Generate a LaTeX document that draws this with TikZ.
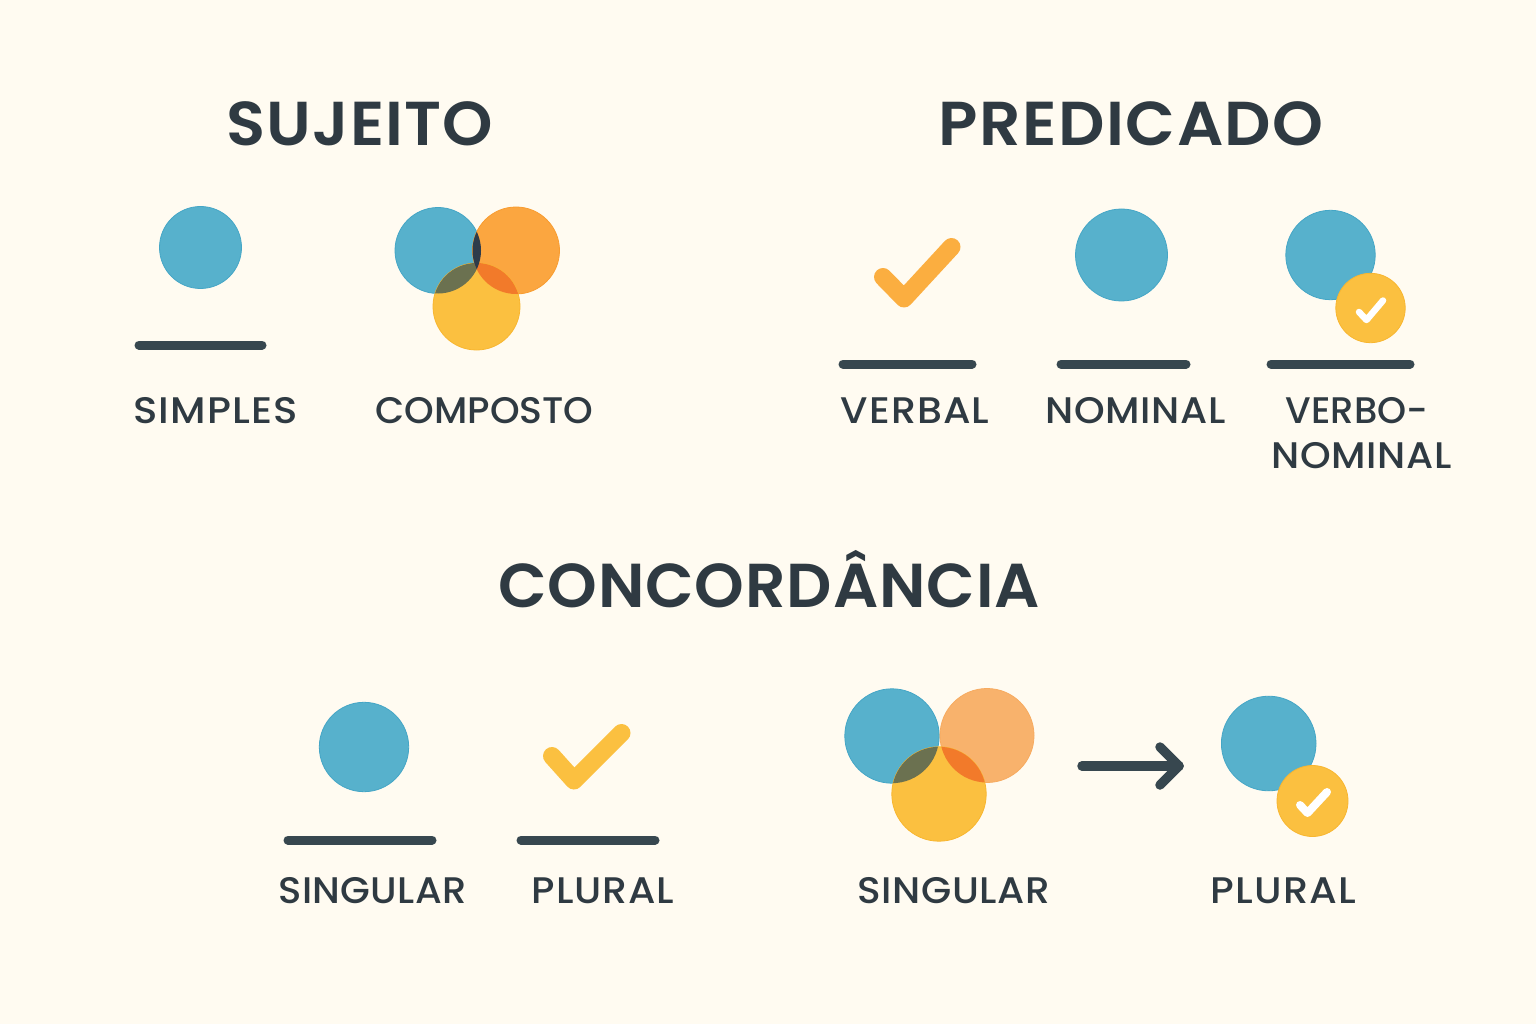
\documentclass[tikz,border=0pt]{standalone}
\usepackage{fontspec}
\setmainfont{Poppins}
\newfontfamily\titlefont{Poppins SemiBold}
\newfontfamily\labelfont{Poppins Medium}
\newcommand\lab[3]{\scalebox{#1}[1]{\addfontfeature{LetterSpace=#2}#3}}
\definecolor{bgc}{HTML}{FFFBF1}
\definecolor{ink}{HTML}{2F3A42}
\definecolor{rulec}{HTML}{37474F}
\definecolor{bluec}{HTML}{57B1CC}
\definecolor{blueo}{HTML}{45A6C6}
\definecolor{orangec}{HTML}{FBA640}
\definecolor{orangeo}{HTML}{F89C30}
\definecolor{paleo}{HTML}{F8B26C}
\definecolor{paleoo}{HTML}{F7AB60}
\definecolor{yellowc}{HTML}{FBC040}
\definecolor{yellowo}{HTML}{F8B630}
\definecolor{checko}{HTML}{FBAE40}
\definecolor{by}{HTML}{6B7150}
\definecolor{bo}{HTML}{2E3B4A}
\definecolor{oy}{HTML}{F27A2A}
\newcommand\lens[7]{\begin{scope}\clip (#1,#2) circle[radius=#3];\fill[#7] (#4,#5) circle[radius=#6];\end{scope}}
\tikzset{
 x=1pt,y=-1pt,
 titletext/.style={anchor=base,inner sep=0pt,text=ink,font=\titlefont\fontsize{62}{62}\selectfont},
 labeltext/.style={anchor=base,inner sep=0pt,text=ink,font=\labelfont\fontsize{37}{37}\selectfont},
 underline/.style={draw=rulec,line width=9pt,line cap=round},
 bluedisc/.style={fill=bluec,draw=blueo,line width=0.8pt},
 orangedisc/.style={fill=orangec,draw=orangeo,line width=0.8pt},
 paledisc/.style={fill=paleo,draw=paleoo,line width=0.8pt},
 yellowdisc/.style={fill=yellowc,draw=yellowo,line width=0.8pt},
 bigcheck/.style={draw=#1,line width=18pt,line cap=round,line join=round},
 smallcheck/.style={draw=white,line width=#1,line cap=round,line join=round},
}
\begin{document}
\begin{tikzpicture}
\useasboundingbox (0,0) rectangle (1536,1024);
\fill[bgc] (0,0) rectangle (1536,1024);
% titles
\node[titletext] (tsuj) at (360,146) {\lab{1.035}{1.7}{SUJEITO}};
\node[titletext] (tpre) at (1131.2,146) {\lab{1.045}{2.2}{PREDICADO}};
\node[titletext] (tcon) at (768.9,607) {\lab{1.02}{1.4}{CONCORDÂNCIA}};
% sujeito simples
\fill[bluedisc] (200.5,247.5) circle[radius=41];
\draw[underline] (139,345) -- (262,345);
\node[labeltext] (lsim) at (215.5,423) {\lab{1.087}{2.9}{SIMPLES}};
% sujeito composto
\fill[bluedisc] (438,250.5) circle[radius=43];
\fill[orangedisc] (516,250.5) circle[radius=43.5];
\fill[yellowdisc] (476.5,306.5) circle[radius=43.5];
\lens{438}{250.5}{43}{476.5}{306.5}{43.5}{by}
\lens{516}{250.5}{43.5}{476.5}{306.5}{43.5}{oy}
\lens{438}{250.5}{43}{516}{250.5}{43.5}{bo}
\node[labeltext] (lcom) at (484.5,423) {\lab{1.02}{0}{COMPOSTO}};
% predicado verbal
\draw[bigcheck=checko] (883,277) -- (904,298.5) -- (951.5,247);
\draw[underline] (843,364) -- (972,364);
\node[labeltext] (lver) at (915,423) {\lab{1.07}{2.6}{VERBAL}};
% predicado nominal
\fill[bluedisc] (1121.5,255) circle[radius=46];
\draw[underline] (1061,364) -- (1186,364);
\node[labeltext] (lnom) at (1135.8,423) {\lab{1.055}{1.8}{NOMINAL}};
% predicado verbo-nominal
\fill[bluedisc] (1330.5,255) circle[radius=44.7];
\fill[yellowdisc] (1370.5,308) circle[radius=34.7];
\draw[smallcheck=6.5pt] (1359,312) -- (1366.5,320) -- (1383,300.5);
\draw[underline] (1271,364) -- (1410,364);
\node[labeltext] (lvb1) at (1357,423) {\lab{1.0}{0}{VERBO-}};
\node[labeltext] (lvb2) at (1361.8,468) {\lab{1.055}{1.8}{NOMINAL}};
% concordancia singular
\fill[bluedisc] (364,747) circle[radius=44.7];
\draw[underline] (288,840) -- (432,840);
\node[labeltext] (lsi1) at (372.7,903) {\lab{1.04}{1.1}{SINGULAR}};
% concordancia plural
\draw[bigcheck=yellowc] (552,756) -- (574,780.5) -- (621.5,733);
\draw[underline] (521,840) -- (655,840);
\node[labeltext] (lpl1) at (602.9,903) {\lab{1.065}{2}{PLURAL}};
% composto -> plural
\fill[bluedisc] (892,736) circle[radius=47.2];
\fill[paledisc] (987,735.5) circle[radius=47];
\fill[yellowdisc] (939,794) circle[radius=47.2];
\lens{892}{736}{47.2}{939}{794}{47.2}{by}
\lens{987}{735.5}{47}{939}{794}{47.2}{oy}
\node[labeltext] (lsi2) at (953.8,903) {\lab{1.055}{1.6}{SINGULAR}};
\coordinate (arrowstart) at (1082,766);
\coordinate (arrowend) at (1179,766);
\draw[rulec,line width=9.5pt,line cap=round,line join=round] (arrowstart) -- (arrowend);
\draw[rulec,line width=9.5pt,line cap=round,line join=round] ([shift={(-19,-19)}]arrowend) -- (arrowend) -- ([shift={(-19,19)}]arrowend);
\fill[bluedisc] (1268.7,743.5) circle[radius=47.3];
\fill[yellowdisc] (1312.5,801) circle[radius=35.5];
\draw[smallcheck=8pt] (1300,805) -- (1307.5,813) -- (1327,792);
\node[labeltext] (lpl2) at (1283.5,903) {\lab{1.078}{2.8}{PLURAL}};
\end{tikzpicture}
\end{document}
